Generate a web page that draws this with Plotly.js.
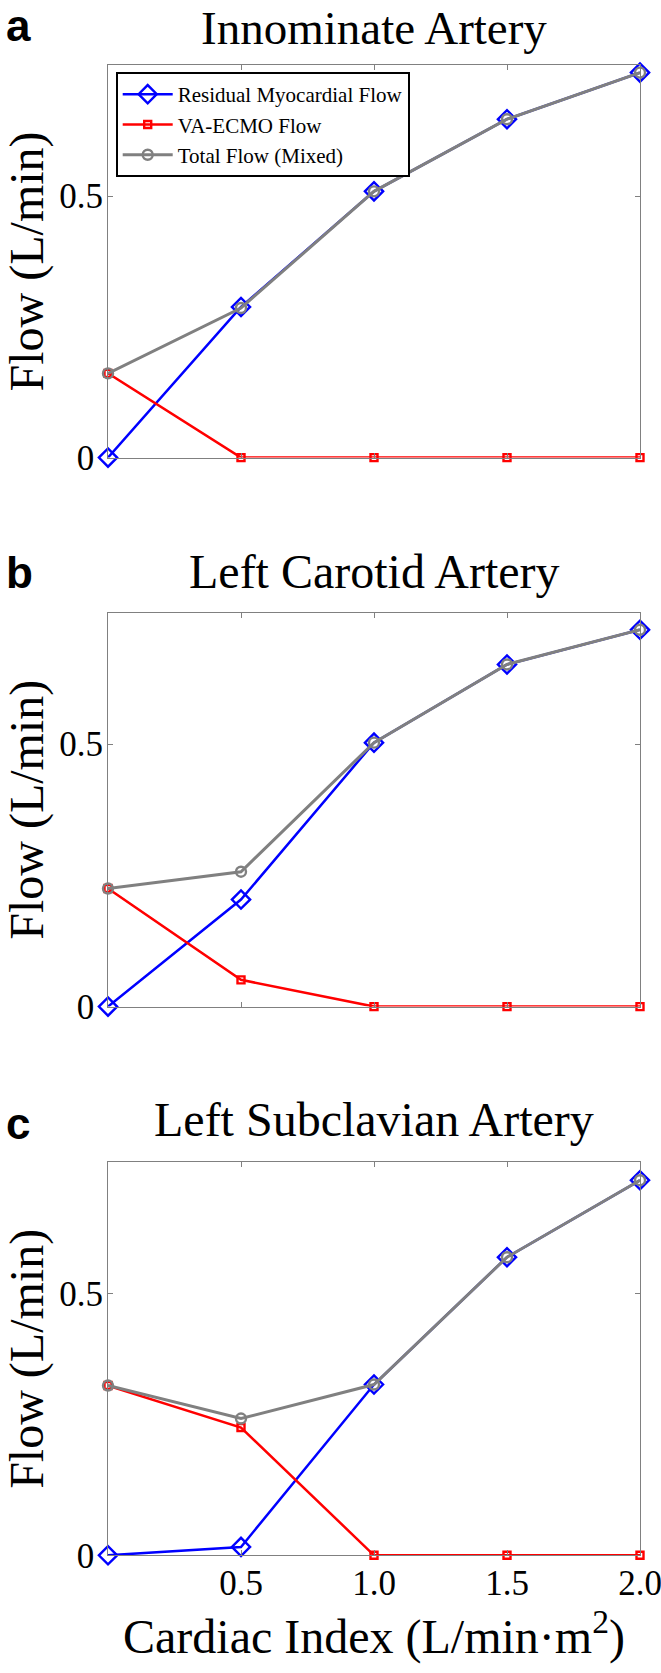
<!DOCTYPE html>
<html>
<head>
<meta charset="utf-8">
<script src="https://cdn.plot.ly/plotly-3.0.1.min.js"></script>
<style>html,body{margin:0;padding:0;background:#fff;}#chart{width:661px;height:1673px;}</style>
</head>
<body>
<div id="chart"></div>
<script>
// ---- data ----
const cardiacIndex = [0, 0.5, 1.0, 1.5, 2.0];
const xTickVals = [0.5, 1.0, 1.5, 2.0];
const xTickText = ['0.5', '1.0', '1.5', '2.0'];
const yTickVals = [0, 0.5];
const yTickText = ['0\u00a0', '0.5'];

const seriesNames = ['Residual Myocardial Flow', 'VA-ECMO Flow', 'Total Flow (Mixed)'];
const panelTitles = ['Innominate Artery', 'Left Carotid Artery', 'Left Subclavian Artery'];
const panelLetters = ['a', 'b', 'c'];

const innominateResidual = [0, 0.288, 0.509, 0.647, 0.736];
const innominateEcmo     = [0.161, 0, 0, 0, 0];
const innominateTotal    = [0.161, 0.286, 0.509, 0.647, 0.736];

const carotidResidual = [0, 0.204, 0.503, 0.652, 0.718];
const carotidEcmo     = [0.225, 0.051, 0, 0, 0];
const carotidTotal    = [0.225, 0.257, 0.503, 0.652, 0.718];

const subclavianResidual = [0, 0.016, 0.326, 0.569, 0.716];
const subclavianEcmo     = [0.324, 0.244, 0, 0, 0];
const subclavianTotal    = [0.324, 0.261, 0.326, 0.569, 0.716];

const panels = [
  [innominateResidual, innominateEcmo, innominateTotal],
  [carotidResidual, carotidEcmo, carotidTotal],
  [subclavianResidual, subclavianEcmo, subclavianTotal]
];

// ---- layout geometry (pixels) ----
const W = 661, H = 1673;
const ML = 108, MR = 21;
const panelPx = [[65.3, 457.6], [613, 1006.6], [1162.4, 1555.3]]; // top, bottom
const titleCenterPx = [26, 571, 1119];
const letterCenterPx = [25, 572, 1123];
const py = p => 1 - p / H;
const pxX = p => (p - ML) / (W - ML - MR);

const serif = 'Liberation Serif, Times New Roman, serif';
const colors = ['#0000ff', '#ff0000', '#808080'];
const symbols = ['diamond-open', 'square-open', 'circle-open'];
const msizes = [14, 7, 10];
const lwidths = [2.5, 2.5, 3];

const traces = [];
panels.forEach((vals, i) => {
  const ax = i === 0 ? '' : String(i + 1);
  vals.forEach((v, s) => {
    traces.push({
      x: cardiacIndex, y: v, type: 'scatter', mode: 'lines+markers',
      name: seriesNames[s], showlegend: i === 0,
      xaxis: 'x' + ax, yaxis: 'y' + ax, cliponaxis: false,
      line: {color: colors[s], width: lwidths[s]},
      marker: {symbol: symbols[s], size: msizes[s], color: colors[s], line: {color: colors[s], width: 2.4}}
    });
  });
});

const layout = {
  width: W, height: H,
  margin: {l: ML, r: MR, t: 0, b: 0},
  paper_bgcolor: '#fff', plot_bgcolor: '#fff',
  font: {family: serif, color: '#000'},
  showlegend: true,
  legend: {
    x: pxX(115.7), y: py(72), xanchor: 'left', yanchor: 'top',
    bgcolor: '#fff', bordercolor: '#000', borderwidth: 2,
    font: {family: serif, size: 21, color: '#000'},
    itemwidth: 50, tracegroupgap: 0
  },
  annotations: [],
  hovermode: false
};

for (let i = 0; i < 3; i++) {
  const ax = i === 0 ? '' : String(i + 1);
  layout['xaxis' + ax] = {
    domain: [0, 1], range: [0, 2], anchor: 'y' + ax,
    showline: true, mirror: 'ticks', linecolor: '#808080', linewidth: 1,
    ticks: 'inside', ticklen: 5, tickcolor: '#808080', tickwidth: 1,
    tickvals: xTickVals, ticktext: xTickText,
    showticklabels: i === 2, showgrid: false, zeroline: false,
    tickfont: {family: serif, size: 35, color: '#000'},
    ticklabelstandoff: -3, ticklabeloverflow: 'allow'
  };
  layout['yaxis' + ax] = {
    domain: [py(panelPx[i][1]), py(panelPx[i][0])], range: [0, 0.75], anchor: 'x' + ax,
    showline: true, mirror: 'ticks', linecolor: '#808080', linewidth: 1,
    ticks: 'inside', ticklen: 5, tickcolor: '#808080', tickwidth: 1,
    tickvals: yTickVals, ticktext: yTickText,
    showgrid: false, zeroline: false,
    tickfont: {family: serif, size: 35, color: '#000'},
    ticklabelstandoff: -3,
    title: {text: 'Flow (L/min)', font: {family: serif, size: 48, color: '#000'}, standoff: 20}
  };
  const first = i === 0;
  layout.annotations.push({
    text: panelTitles[i], xref: 'paper', yref: 'paper', x: 0.5,
    y: first ? 1 : py(titleCenterPx[i]),
    xanchor: 'center', yanchor: first ? 'top' : 'middle', showarrow: false,
    font: {family: serif, size: first ? 47 : 48, color: '#000'}
  });
  layout.annotations.push({
    text: '<b>' + panelLetters[i] + '</b>', xref: 'paper', yref: 'paper', x: pxX(4), y: py(letterCenterPx[i]),
    xanchor: 'left', yanchor: 'middle', showarrow: false,
    font: {family: 'Liberation Sans, Arial, sans-serif', size: 44, color: '#000'}
  });
}
layout.xaxis3.title = {text: 'Cardiac Index (L/min\u00b7m<sup>2</sup>)', font: {family: serif, size: 48, color: '#000'}, standoff: 10};

Plotly.newPlot('chart', traces, layout, {staticPlot: true, displayModeBar: false});
</script>
</body>
</html>
